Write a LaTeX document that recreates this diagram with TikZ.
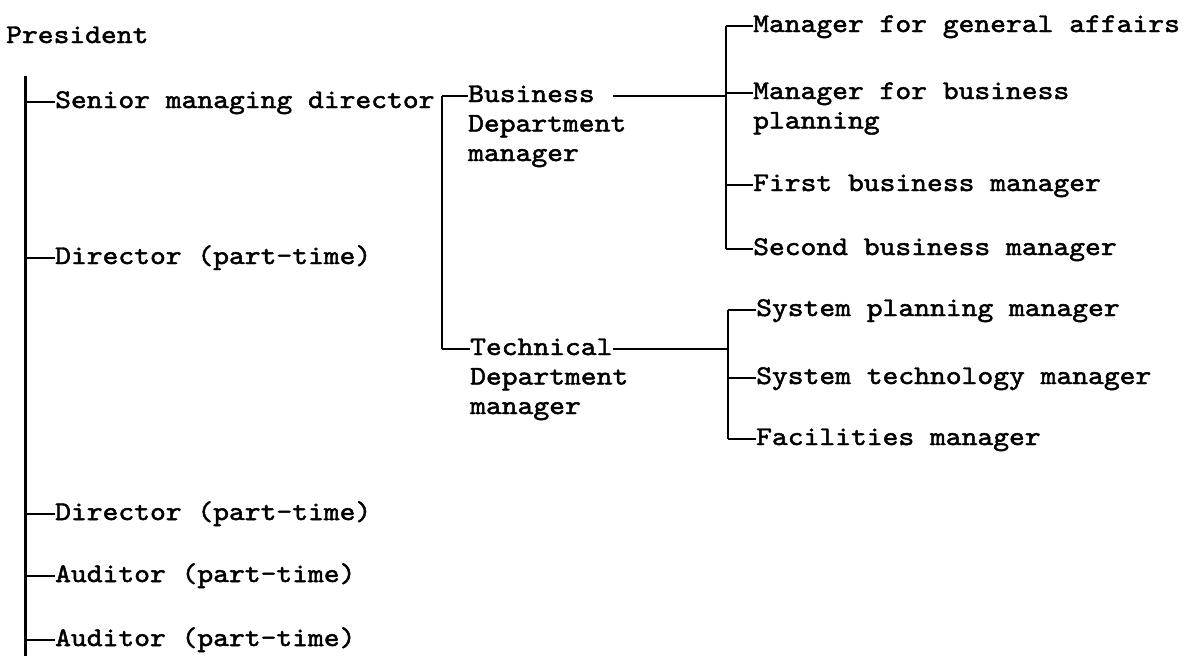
\documentclass[tikz,border=0pt]{standalone}
\usepackage{fontspec}
\newfontfamily\tw{lmmono10-regular.otf}[FakeStretch=1.115,FakeBold=1.8]
\newcommand\mlines[1]{\begin{tabular}[t]{@{}l@{}}#1\end{tabular}}
\tikzset{
  lbl/.style={font=\tw\fontsize{27}{29.5}\selectfont, inner sep=0pt, anchor=base west},
  trunk/.style={line width=2.2pt},
  tick/.style={line width=1.5pt}
}
\begin{document}
\begin{tikzpicture}[x=1pt,y=-1pt]
\useasboundingbox (0,0) rectangle (1189,656);
% first level
\node[lbl] (pres) at (6,43) {President};
\node[lbl] (smd) at (55,108) {Senior managing director};
\node[lbl] (dir1) at (55,264) {Director (part-time)};
\node[lbl] (dir2) at (55,520) {Director (part-time)};
\node[lbl] (aud1) at (55,582) {Auditor (part-time)};
\node[lbl] (aud2) at (55,646) {Auditor (part-time)};
\coordinate (t0) at (25.5,76);
\coordinate (t1) at (25.5,656);
\draw[trunk] (t0) -- (t1);
\foreach \n in {smd,dir1,dir2,aud1,aud2}
  \draw[tick] ([yshift=6pt]\n.base west -| t0) -- ([yshift=6pt]\n.base west);
% second level
\node[lbl] (bdm) at (468,102) {\mlines{Business\\Department\\manager}};
\node[lbl] (tdm) at (470,355) {\mlines{Technical\\Department\\manager}};
\coordinate (j2) at (442,0);
\draw[trunk] ([yshift=6pt]bdm.base west -| j2) -- ([yshift=6pt]tdm.base west -| j2);
\draw[tick] ([yshift=6pt]bdm.base west -| j2) -- ([yshift=6pt]bdm.base west);
\draw[tick] ([yshift=6pt]tdm.base west -| j2) -- ([yshift=6pt]tdm.base west);
% third level (business)
\node[lbl] (mga) at (753,32) {Manager for general affairs};
\node[lbl] (mbp) at (753,99) {\mlines{Manager for business\\planning}};
\node[lbl] (fbm) at (753,191) {First business manager};
\node[lbl] (sbm) at (753,255) {Second business manager};
\coordinate (j3) at (726,0);
\draw[trunk] ([yshift=6pt]mga.base west -| j3) -- ([yshift=6pt]sbm.base west -| j3);
\draw[tick] ([xshift=145pt,yshift=6pt]bdm.base west) -- ([yshift=6pt]bdm.base west -| j3);
\foreach \n in {mga,mbp,fbm,sbm}
  \draw[tick] ([yshift=6pt]\n.base west -| j3) -- ([yshift=6pt]\n.base west);
% third level (technical)
\node[lbl] (spm) at (756,316) {System planning manager};
\node[lbl] (stm) at (756,384) {System technology manager};
\node[lbl] (fm) at (756,445) {Facilities manager};
\coordinate (j4) at (728,0);
\draw[trunk] ([yshift=6pt]spm.base west -| j4) -- ([yshift=6pt]fm.base west -| j4);
\draw[tick] ([xshift=143pt,yshift=6pt]tdm.base west) -- ([yshift=6pt]tdm.base west -| j4);
\foreach \n in {spm,stm,fm}
  \draw[tick] ([yshift=6pt]\n.base west -| j4) -- ([yshift=6pt]\n.base west);
\end{tikzpicture}
\end{document}
